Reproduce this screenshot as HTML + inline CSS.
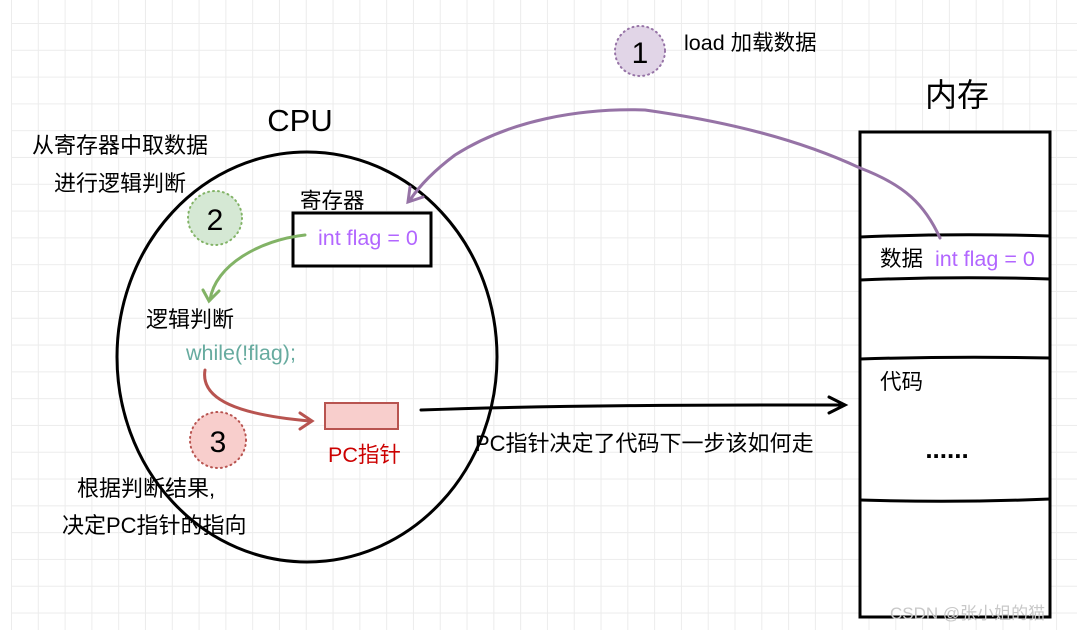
<!DOCTYPE html>
<html><head><meta charset="utf-8"><style>
body{margin:0;width:1077px;height:630px;overflow:hidden;background:#fff;
background-image:linear-gradient(#ececec 1px,transparent 1px),linear-gradient(90deg,#ececec 1px,transparent 1px);
background-size:26.8px 26.8px;background-position:11px 23px;}
svg{position:absolute;left:0;top:0}
text{font-family:"Liberation Sans","Noto Sans CJK SC",sans-serif}
</style></head><body>
<svg width="1077" height="630" viewBox="0 0 1077 630">
<rect x="0" y="0" width="11" height="630" fill="#fff"/>
<circle cx="640" cy="51" r="25" fill="#e1d5e7" stroke="#9673a6" stroke-width="2" stroke-dasharray="1 4" stroke-linecap="round"/>
<text x="640" y="63" font-size="30" text-anchor="middle">1</text>
<text x="684" y="50" font-size="21.5">load 加载数据</text>
<text x="300" y="131" font-size="31" text-anchor="middle">CPU</text>
<ellipse cx="307" cy="357" rx="190" ry="205" fill="none" stroke="#000" stroke-width="3"/>
<text x="32" y="153" font-size="22">从寄存器中取数据</text>
<text x="54" y="191" font-size="22">进行逻辑判断</text>
<circle cx="215" cy="218" r="27" fill="#d5e8d4" stroke="#82b366" stroke-width="2" stroke-dasharray="1 4" stroke-linecap="round"/>
<text x="215" y="230" font-size="30" text-anchor="middle">2</text>
<text x="300" y="208" font-size="21.5">寄存器</text>
<rect x="293" y="213" width="138" height="53" fill="#fff" stroke="#000" stroke-width="3"/>
<text x="318" y="245" font-size="21.5" fill="#b266ff">int flag = 0</text>
<path d="M305 235 C260 240 215 265 210 300" fill="none" stroke="#82b366" stroke-width="3" stroke-linecap="round"/>
<path d="M203 290 L209 301 L219 291" fill="none" stroke="#82b366" stroke-width="3" stroke-linecap="round"/>
<text x="146" y="327" font-size="22">逻辑判断</text>
<text x="186" y="360" font-size="21.5" fill="#67ab9f">while(!flag);</text>
<path d="M205 370 C200 400 240 415 310 421" fill="none" stroke="#b85450" stroke-width="3" stroke-linecap="round"/>
<path d="M300 413 L312 421 L300 429" fill="none" stroke="#b85450" stroke-width="3" stroke-linecap="round"/>
<rect x="325" y="403" width="73" height="26" fill="#f8cecc" stroke="#b85450" stroke-width="2"/>
<text x="328" y="462" font-size="21.5" fill="#cc0000">PC指针</text>
<circle cx="218" cy="440" r="28" fill="#f8cecc" stroke="#b85450" stroke-width="2" stroke-dasharray="1 4" stroke-linecap="round"/>
<text x="218" y="452" font-size="30" text-anchor="middle">3</text>
<text x="77" y="496" font-size="22">根据判断结果,</text>
<text x="62" y="533" font-size="22">决定PC指针的指向</text>
<path d="M421 410 C560 405 700 405 840 405" fill="none" stroke="#000" stroke-width="3" stroke-linecap="round"/>
<path d="M829 397 L845 405 L829 413" fill="none" stroke="#000" stroke-width="3" stroke-linecap="round"/>
<text x="475" y="451" font-size="22">PC指针决定了代码下一步该如何走</text>
<text x="957" y="106" font-size="32" text-anchor="middle">内存</text>
<rect x="860" y="132" width="190" height="485" fill="#fff" stroke="#000" stroke-width="3"/>
<path d="M860 237 Q955 233 1050 236 M860 280 Q955 276 1050 279 M860 359 Q955 356 1050 358 M860 500 Q955 503 1050 499" stroke="#000" stroke-width="3" fill="none"/>
<text x="880" y="266" font-size="21.5">数据</text>
<text x="935" y="266" font-size="21.5" fill="#b266ff">int flag = 0</text>
<text x="880" y="389" font-size="21.5">代码</text>
<text x="947" y="458" font-size="26" font-weight="bold" text-anchor="middle">......</text>
<text x="890" y="619" font-size="17" fill="#c8c8c8">CSDN @张小姐的猫</text>
<path d="M940 238 C925 205 905 185 860 168 C800 140 730 122 645 110 C580 108 510 120 455 155 C435 170 420 185 410 200" fill="none" stroke="#9673a6" stroke-width="3" stroke-linecap="round"/>
<path d="M410 187 L408 202 L423 197" fill="none" stroke="#9673a6" stroke-width="3" stroke-linecap="round"/>
</svg>
</body></html>
